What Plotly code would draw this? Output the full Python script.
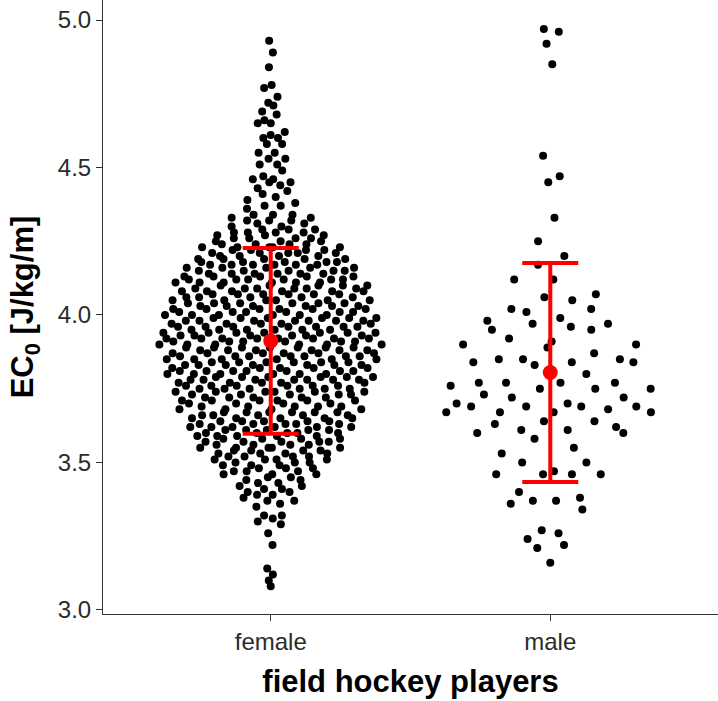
import numpy as np
import plotly.graph_objects as go

groups = ["female", "male"]

# female EC0 values as a frequency table (value, number of players)
female_levels = [4.93, 4.89, 4.84, 4.78, 4.77, 4.74, 4.72, 4.71, 4.69, 4.68, 4.66, 4.65, 4.62, 4.61, 4.60,
                 4.58, 4.55, 4.53, 4.51, 4.49, 4.47, 4.46, 4.45, 4.44, 4.43, 4.42, 4.41, 4.40,
                 4.39, 4.38, 4.37, 4.36,
                 4.34, 4.33, 4.32, 4.31, 4.30,
                 4.29, 4.28, 4.27, 4.26, 4.25,
                 4.24, 4.23, 4.22, 4.21, 4.20,
                 4.19, 4.18, 4.17, 4.16, 4.15,
                 4.14, 4.13, 4.12, 4.11, 4.10,
                 4.09, 4.08, 4.07, 4.06, 4.05,
                 4.04, 4.03, 4.02, 4.01, 4.00,
                 3.99, 3.98, 3.97, 3.96, 3.95,
                 3.94, 3.93, 3.92, 3.91, 3.90,
                 3.89, 3.88, 3.87, 3.86, 3.85,
                 3.84, 3.83, 3.82, 3.81, 3.80,
                 3.79, 3.78, 3.77, 3.76, 3.75,
                 3.74, 3.73, 3.72, 3.71, 3.70,
                 3.69, 3.68, 3.67, 3.66, 3.65,
                 3.64, 3.63, 3.62, 3.61, 3.60,
                 3.59, 3.58, 3.57, 3.56, 3.55,
                 3.54, 3.53, 3.52, 3.51, 3.50,
                 3.49, 3.48, 3.47, 3.46, 3.45,
                 3.44, 3.43, 3.42, 3.41, 3.40,
                 3.39, 3.38, 3.37, 3.36, 3.35,
                 3.32, 3.31, 3.30, 3.29, 3.26,
                 3.22, 3.14, 3.12, 3.10, 3.08]
female_counts = [1, 1, 1, 1, 1, 1, 1, 1, 1, 1, 1, 2, 1, 1, 2,
                 2, 2, 2, 2, 1, 1, 2, 2, 1, 1, 1, 1, 1,
                 1, 1, 2, 1,
                 3, 2, 3, 2, 2,
                 3, 4, 3, 4, 3,
                 4, 5, 4, 5, 4,
                 5, 5, 6, 5, 5,
                 6, 5, 6, 6, 5,
                 6, 6, 6, 5, 6,
                 6, 6, 6, 6, 6,
                 6, 7, 5, 7, 6,
                 7, 6, 8, 6, 7,
                 7, 6, 6, 7, 6,
                 6, 7, 5, 7, 6,
                 6, 7, 5, 6, 6,
                 6, 5, 5, 6, 4,
                 5, 4, 6, 5, 5,
                 5, 5, 6, 5, 5,
                 5, 4, 5, 4, 5,
                 4, 4, 4, 4, 3,
                 3, 3, 3, 3, 2,
                 2, 2, 2, 2, 2,
                 2, 1, 2, 1, 1,
                 2, 1, 1, 1, 1,
                 1, 1, 1, 1, 1]

male_ec0 = [4.97, 4.96, 4.92, 4.85, 4.54, 4.47, 4.45, 4.33,
            4.25, 4.20, 4.17, 4.12, 4.12, 4.07, 4.06, 4.05, 4.02, 4.02, 4.01,
            3.99, 3.98, 3.97, 3.97, 3.96, 3.95, 3.95, 3.92, 3.91, 3.90, 3.90,
            3.89, 3.87, 3.85, 3.85, 3.85, 3.84, 3.84, 3.84, 3.83, 3.80,
            3.77, 3.77, 3.77, 3.77, 3.76, 3.75, 3.75, 3.75, 3.73, 3.72, 3.72,
            3.70, 3.70, 3.69, 3.69, 3.69, 3.69, 3.68, 3.67, 3.67, 3.67, 3.67,
            3.64, 3.64, 3.63, 3.62, 3.61, 3.61, 3.60, 3.60, 3.58, 3.55, 3.53,
            3.50, 3.50, 3.47, 3.46, 3.46, 3.46, 3.46, 3.40, 3.38, 3.37, 3.37,
            3.36, 3.34, 3.27, 3.26, 3.24, 3.22, 3.21, 3.16]

group_mean = [3.912, 3.805]
group_sd = [0.315, 0.371]

female_ec0 = np.repeat(np.array(female_levels), np.array(female_counts))


def van_der_corput(n, base=2):
    out = np.empty(n)
    for i in range(1, n + 1):
        q, denom, v = i, 1, 0.0
        while q:
            denom *= base
            q, r = divmod(q, base)
            v += r / denom
        out[i - 1] = v
    return out


def quasirandom_offsets(y, width=0.4):
    """ggbeeswarm-style quasirandom offsets: van der Corput by rank, scaled by KDE."""
    y = np.asarray(y, dtype=float)
    n = len(y)
    sd = y.std(ddof=1)
    iqr = np.subtract(*np.percentile(y, [75, 25]))
    lo = min(sd, iqr / 1.34) if iqr > 0 else sd
    bw = 0.9 * lo * n ** (-0.2)
    grid = np.linspace(y.min() - 3 * bw, y.max() + 3 * bw, 512)

    def kde(pts):
        return np.exp(-0.5 * ((pts[:, None] - y[None, :]) / bw) ** 2).sum(axis=1)

    dens_grid = kde(grid)
    dens = kde(y) / dens_grid.max()
    rank = np.empty(n, dtype=int)
    rank[np.argsort(y, kind="stable")] = np.arange(n)
    v = van_der_corput(n)[rank]
    return (v - 0.5) * 2 * dens * width


fig = go.Figure()
for i, ys in enumerate([female_ec0, np.array(male_ec0)]):
    off = quasirandom_offsets(ys, 0.4)
    fig.add_trace(go.Scatter(
        x=(i + 1) + off, y=ys, mode="markers",
        marker=dict(size=8, color="black", line=dict(width=0)),
        showlegend=False, hoverinfo="y"))

fig.add_trace(go.Scatter(
    x=[1, 2], y=group_mean, mode="markers",
    marker=dict(size=15, color="red", line=dict(width=0)),
    error_y=dict(type="data", array=group_sd, visible=True, color="red", thickness=4, width=28),
    showlegend=False))

axis_col = "#333333"
font_family = "Liberation Sans, Arial, Helvetica, sans-serif"

fig.update_layout(
    width=718, height=701,
    margin=dict(l=103, r=0, t=0, b=87),
    plot_bgcolor="white", paper_bgcolor="white",
    font=dict(family=font_family, color="black"),
    xaxis=dict(
        range=[0.4, 2.6], tickmode="array", tickvals=[1, 2], ticktext=groups,
        showline=True, linecolor=axis_col, linewidth=1, mirror=False,
        ticks="outside", ticklen=6, tickwidth=1, tickcolor=axis_col,
        tickfont=dict(size=24, color="#2b2b2b", family=font_family),
        showgrid=False, zeroline=False, automargin=False,
        title=dict(text="<b>field hockey players</b>", font=dict(size=31, color="black", family=font_family), standoff=16),
    ),
    yaxis=dict(
        range=[2.986, 5.068], tickmode="array", tickvals=[3.0, 3.5, 4.0, 4.5, 5.0], tickformat=".1f",
        showline=True, linecolor=axis_col, linewidth=1,
        ticks="outside", ticklen=6, tickwidth=1, tickcolor=axis_col,
        tickfont=dict(size=24, color="#2b2b2b", family=font_family),
        showgrid=False, zeroline=False, automargin=False,
        title=dict(text="<b>EC<sub>0</sub> [J/kg/m]</b>", font=dict(size=31, color="black", family=font_family), standoff=14),
    ),
)

fig.write_html("out.html")
